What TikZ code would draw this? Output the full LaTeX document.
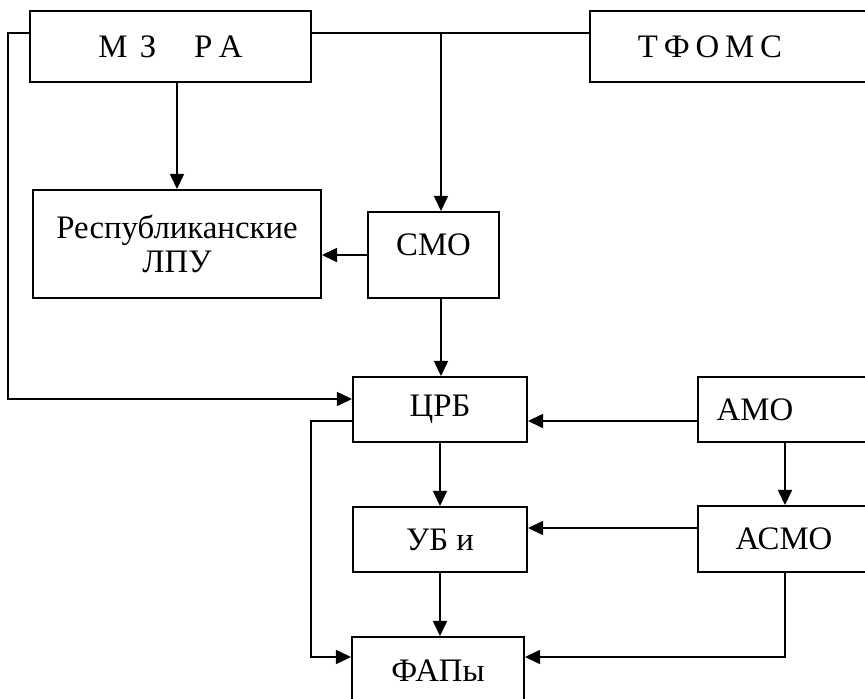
\documentclass[tikz,border=0pt]{standalone}
\usepackage{fontspec}
\setmainfont{Liberation Serif}
\usetikzlibrary{calc,arrows.meta}
\tikzset{
	box/.style={draw,line width=0.8pt,rectangle,inner sep=0pt,align=center,font=\fontsize{14}{14.5}\selectfont},
	arr/.style={line width=0.8pt,-{Triangle[length=6.5pt,width=6pt]}},
	ln/.style={line width=0.8pt}
}
\begin{document}
\begin{tikzpicture}[x=0.015cm,y=-0.015cm]
				\clip (0,0) rectangle (865,699);
				\useasboundingbox (0,0) rectangle (865,699);
				\fill[white] (0,0) rectangle (865,699);

				\node[box,minimum width=4.215cm,minimum height=1.065cm] (mz) at (170.5,46.5) {М\hspace{0.38em}З\hspace{1.15em}Р\hspace{0.2em}А};
				\node[box,minimum width=4.35cm,minimum height=1.065cm] (tfoms) at (735,46.5) {Т\hspace{0.18em}Ф\hspace{0.18em}О\hspace{0.18em}М\hspace{0.18em}С\hspace{0.75cm}};
				\node[box,minimum width=4.32cm,minimum height=1.62cm] (resp) at (177,244) {Республиканские\\ЛПУ};
				\node[box,minimum width=1.965cm,minimum height=1.29cm] (smo) at (433.5,255) {\raisebox{8.5pt}{СМО}};
				\node[box,minimum width=2.61cm,minimum height=0.975cm] (crb) at (440,409.5) {ЦРБ};
				\node[box,minimum width=2.61cm,minimum height=0.975cm] (ub) at (440,539.5) {УБ и};
				\node[box,minimum width=2.58cm,minimum height=1.02cm] (fap) at (438,671) {ФАПы};
				\node[box,minimum width=2.73cm,minimum height=0.975cm] (amo) at (789,409.5) {АМО\hspace{1.02cm}};
				\node[box,minimum width=2.73cm,minimum height=0.99cm] (asmo) at (789,539) {АСМО\hspace{0.15cm}};

				\coordinate (wl) at (8,33);
				\coordinate (wb) at (8,399);
				\coordinate (jn) at (441,33);
				\coordinate (r1) at (600,421);
				\coordinate (r2) at (600,528);
				\coordinate (wl2) at (311,421);
				\coordinate (wl3) at (311,657);
				\coordinate (rv) at (785,600);

				\draw[arr] (mz.west |- wl)--(wl)--(wb)--(crb.west |- wb);
				\draw[ln] (mz.east |- wl)--(tfoms.west |- wl);
				\draw[arr] (jn)--(jn |- smo.north);
				\draw[arr] (mz.south -| resp.north)--(resp.north);
				\draw[arr] (smo.west)--(smo.west -| resp.east);
				\draw[arr] (jn |- smo.south)--(jn |- crb.north);
				\draw[arr] (amo.west |- r1)--(crb.east |- r1);
				\draw[arr] (crb.west |- wl2)--(wl2)--(wl3)--(fap.west |- wl3);
				\draw[arr] (crb.south)--(ub.north);
				\draw[arr] (ub.south)--(ub.south |- fap.north);
				\draw[arr] (amo.south -| rv)--(asmo.north -| rv);
				\draw[arr] (asmo.west |- r2)--(ub.east |- r2);
				\draw[arr] (asmo.south -| rv)--(rv |- wl3)--(fap.east |- wl3);
			\end{tikzpicture}
\end{document}
